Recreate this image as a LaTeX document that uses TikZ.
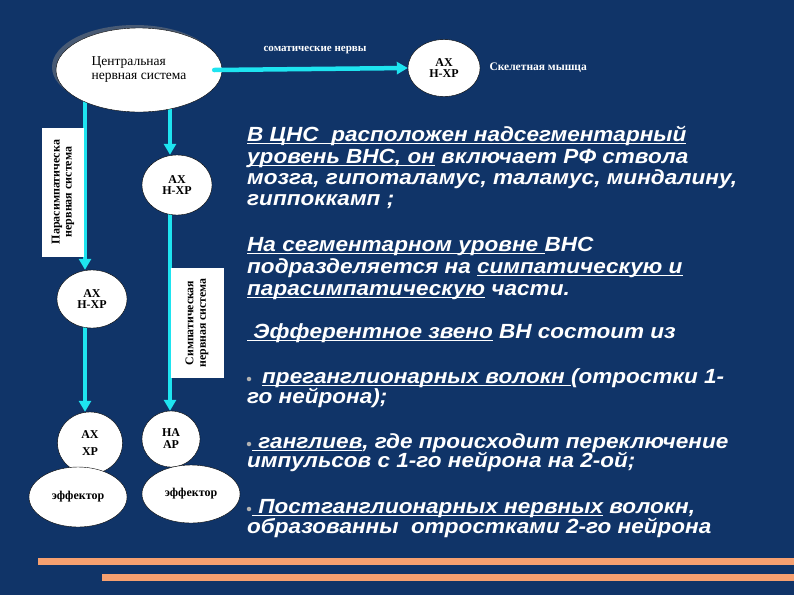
\documentclass[tikz,border=0pt]{standalone}
\usepackage{fontspec}
\setmainfont{Liberation Serif}
\newfontfamily\slidefont[FakeStretch=1.1]{Liberation Sans}
\newcommand\ulin[1]{\setbox0\hbox{#1}\rlap{\rule[-3.2pt]{\wd0}{1.7pt}}\box0\relax}
\usetikzlibrary{shapes.geometric,arrows.meta,shadows,backgrounds}

\definecolor{slideblue}{RGB}{16,52,104}
\definecolor{nervecyan}{RGB}{30,228,240}
\definecolor{barorange}{RGB}{246,160,112}

\tikzset{
  nerve/.style = {line width = 4.5pt, nervecyan, -{Triangle[width=12pt,length=11pt]}},
  gangl/.style = {ellipse, fill = white, draw = black, line width = 0.4pt, inner sep = 0pt,
    align = center, font = \bfseries\fontsize{12}{11}\selectfont},
  sidebox/.style = {rectangle, fill = white, inner sep = 0pt, align = center,
    font = \bfseries\fontsize{12}{12}\selectfont},
  slidetext/.style = {anchor = base west, inner sep = 0pt, text = white,
    font = \slidefont\bfseries\itshape\fontsize{20.5}{21}\selectfont},
  dot/.style = {circle, fill = gray!60, inner sep = 0pt, minimum size = 4.5pt}
}

\begin{document}
\begin{tikzpicture}[x = 1pt, y = -1pt]
  \useasboundingbox (0,0) rectangle (794,595);

  % scheme
  \node[gangl, minimum width = 166pt, minimum height = 84pt, align = left,
    font = \fontsize{13.5}{14}\selectfont,
    drop shadow = {shadow xshift = -4pt, shadow yshift = 3pt, fill = gray}]
    (cns) at (139,70) {Центральная\\нервная система};
  \node[gangl, minimum width = 72pt, minimum height = 57pt] (axTop) at (444,68) {АХ\\Н-ХР};
  \node[gangl, minimum width = 70pt, minimum height = 60pt] (axMid) at (177,185) {АХ\\Н-ХР};
  \node[gangl, minimum width = 70pt, minimum height = 58pt] (axLeft) at (92,299) {АХ\\Н-ХР};
  \node[gangl, minimum width = 65pt, minimum height = 62pt,
    font = \bfseries\fontsize{12}{17}\selectfont] (axXP) at (90,443) {АХ\\ХР};
  \node[gangl, minimum width = 58pt, minimum height = 56pt,
    font = \bfseries\fontsize{12}{12}\selectfont] (naAP) at (171,439) {НА\\АР};
  \node[gangl, minimum width = 98pt, minimum height = 60pt] (effL) at (78,497) {эффектор};
  \node[gangl, minimum width = 98pt, minimum height = 58pt] (effR) at (191,494) {эффектор};

  \node[sidebox, minimum width = 129pt, minimum height = 42pt, rotate = 90]
    (paraBox) at (63,192) {Парасимпатическа\\нервная система};
  \node[sidebox, minimum width = 110pt, minimum height = 53pt, rotate = 90,
    font = \bfseries\fontsize{11.8}{12.5}\selectfont]
    (sympBox) at (197,323) {Симпатическая\\нервная система};

  \node[text = white, font = \bfseries\fontsize{11}{12}\selectfont] (somLabel) at (315,50) {соматические нервы};
  \node[text = white, font = \bfseries\fontsize{11.5}{12}\selectfont, anchor = west] (muscle) at (486,68) {Скелетная мышца};

  \coordinate (parX) at (85,0);
  \coordinate (symX) at (170,0);
  \begin{pgfonlayer}{background}
    \fill[slideblue] (0,0) rectangle (794,595);
    \draw[nerve] (parX |- cns.center) -- (parX |- axLeft.north);
    \draw[nerve] (parX |- axLeft.center) -- (parX |- axXP.north);
    \draw[nerve] (symX |- cns.center) -- (symX |- axMid.north);
    \draw[nerve] (symX |- axMid.center) -- (symX |- naAP.north);
  \end{pgfonlayer}
  \draw[nerve, line cap = round] ([xshift = -8pt]cns.east) -- (axTop.west);

  % text
  \node[slidetext] (l1) at (247,141) {\ulin{В ЦНС\ \ расположен надсегментарный}};
  \node[slidetext] (l2) at (247,163) {\ulin{уровень ВНС, он} включает РФ ствола};
  \node[slidetext] (l3) at (247,184) {мозга, гипоталамус, таламус, миндалину,};
  \node[slidetext] (l4) at (247,205) {гиппоккамп ;};
  \node[slidetext] (l5) at (247,251) {\ulin{На сегментарном уровне\ }ВНС};
  \node[slidetext] (l6) at (247,273) {подразделяется на \ulin{симпатическую и}};
  \node[slidetext] (l7) at (247,295) {\ulin{парасимпатическую} части.};
  \node[slidetext] (l8) at (247,338) {\ulin{\ Эфферентное звено} ВН состоит из};
  \node[dot] (b1) at (249,379) {};
  \node[slidetext] (l9) at (262,383) {\ulin{преганглионарных волокн\ }(отростки 1-};
  \node[slidetext] (l10) at (247,403) {го нейрона);};
  \node[dot] (b2) at (249,444) {};
  \node[slidetext] (l11) at (252,448) {\ulin{\ ганглиев}, где происходит переключение};
  \node[slidetext] (l12) at (247,467) {импульсов с 1-го нейрона на 2-ой;};
  \node[dot] (b3) at (249,509) {};
  \node[slidetext] (l13) at (252,513) {\ulin{\ Постганглионарных нервных} волокн,};
  \node[slidetext] (l14) at (247,533) {образованны\ \ отростками 2-го нейрона};

  % bars
  \fill[barorange] (38,557.5) rectangle (794,564.5);
  \fill[barorange] (102,573.5) rectangle (794,580.5);
\end{tikzpicture}
\end{document}
